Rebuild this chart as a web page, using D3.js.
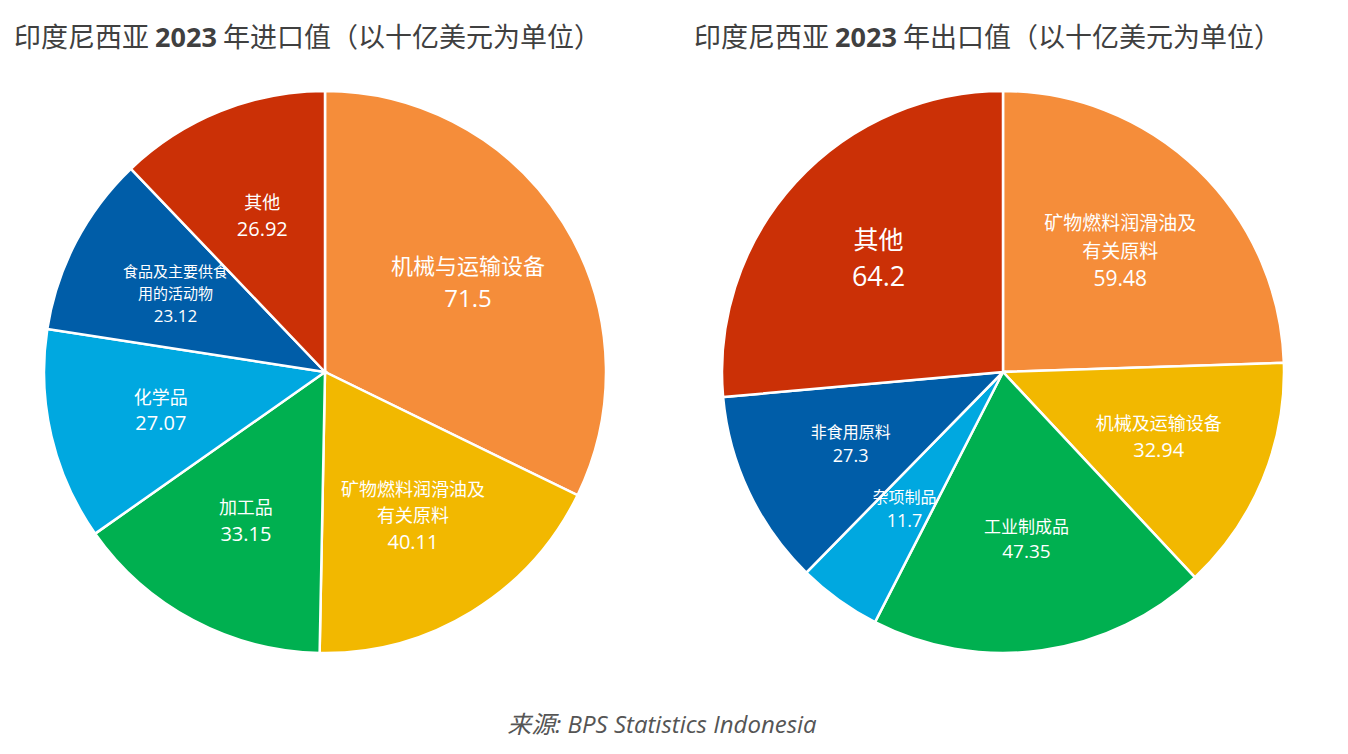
<!DOCTYPE html>
<html><head><meta charset="utf-8">
<script src="https://cdn.jsdelivr.net/npm/d3@7"></script>
<style>body{margin:0;background:#fff;font-family:"Noto Sans CJK SC","Open Sans",sans-serif}</style>
</head><body>
<svg id="chart" width="1348" height="754"></svg>
<script>
// Import data (billion USD), clockwise from 12 o'clock
var importCats = [["机械与运输设备"], ["矿物燃料润滑油及", "有关原料"], ["加工品"], ["化学品"], ["食品及主要供食", "用的活动物"], ["其他"]];
var importVals = [71.5, 40.11, 33.15, 27.07, 23.12, 26.92];
var importLabels = ["71.5", "40.11", "33.15", "27.07", "23.12", "26.92"];

// Export data
var exportCats = [["矿物燃料润滑油及", "有关原料"], ["机械及运输设备"], ["工业制成品"], ["杂项制品"], ["非食用原料"], ["其他"]];
var exportVals = [59.48, 32.94, 47.35, 11.7, 27.3, 64.2];
var exportLabels = ["59.48", "32.94", "47.35", "11.7", "27.3", "64.2"];

var colors = ["#F58D3A", "#F2B800", "#00B050", "#00A8E0", "#005DA8", "#CB3006"];

var svg = d3.select("#chart");

function drawPie(cx, cy, r, cats, vals, labels, fontSizes, labelR) {
  var g = svg.append("g").attr("transform", `translate(${cx},${cy})`);
  var pie = d3.pie().sort(null).value(d => d);
  var arcs = pie(vals);
  var arc = d3.arc().innerRadius(0).outerRadius(r);
  var labelArc = d3.arc().innerRadius(labelR * r).outerRadius(labelR * r);

  g.selectAll("path").data(arcs).enter().append("path")
    .attr("d", arc)
    .attr("fill", (d, i) => colors[i])
    .attr("stroke", "#fff").attr("stroke-width", 2.5);

  arcs.forEach(function (d, i) {
    var c = labelArc.centroid(d);
    var fs = fontSizes[i];
    var lines = cats[i].concat([labels[i]]);
    var lh = fs * 1.45;
    var y0 = c[1] - (lines.length - 1) * lh / 2;
    var t = g.append("text").attr("text-anchor", "middle").attr("fill", "#fff")
      .style("font-size", fs + "px");
    lines.forEach(function (ln, k) {
      t.append("tspan").attr("x", c[0]).attr("y", y0 + k * lh).attr("dy", "0.35em")
        .style("font-family", k === lines.length - 1 ? "'Open Sans',sans-serif" : null)
        .style("font-size", (k === lines.length - 1 ? fs + 2 : fs) + "px")
        .text(ln);
    });
  });
}

drawPie(325, 372, 281, importCats, importVals, importLabels, [22, 18, 18, 18, 15, 18], 0.6);
drawPie(1003, 372, 281, exportCats, exportVals, exportLabels, [19, 18, 17, 16, 16, 25], 0.6);

// Titles
function title(x, txt) {
  var t = svg.append("text").attr("x", x).attr("y", 47).attr("fill", "#404040").style("font-size", "27px");
  t.append("tspan").text("印度尼西亚 ");
  t.append("tspan").style("font-weight", "bold").style("font-family", "'Open Sans',sans-serif").text("2023");
  t.append("tspan").text(" " + txt);
}
title(14, "年进口值（以十亿美元为单位）");
title(694, "年出口值（以十亿美元为单位）");

svg.append("text").attr("x", 662).attr("y", 733).attr("text-anchor", "middle")
  .attr("fill", "#555").style("font-style", "italic").style("font-size", "24px")
  .style("font-family", "'Open Sans','Noto Sans CJK SC',sans-serif")
  .text("来源: BPS Statistics Indonesia");
</script>
</body></html>
